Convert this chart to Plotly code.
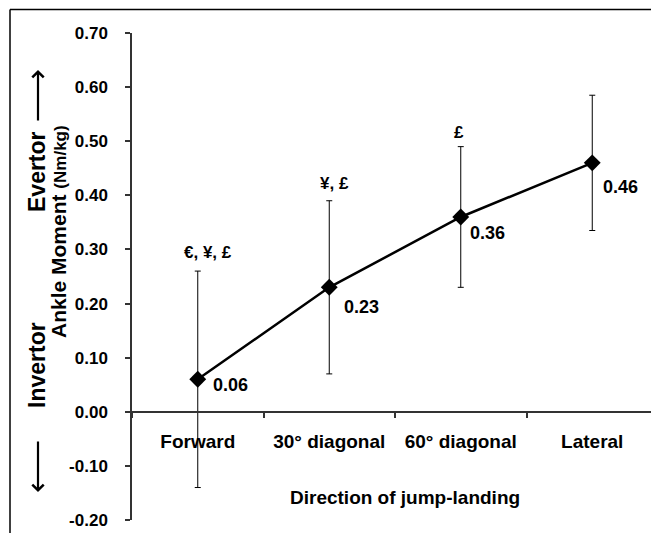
import plotly.graph_objects as go

categories = ["Forward", "30° diagonal", "60° diagonal", "Lateral"]
means = [0.06, 0.23, 0.36, 0.46]
sds = [0.20, 0.16, 0.13, 0.125]
value_labels = ["0.06", "0.23", "0.36", "0.46"]
sig_labels = ["€, ¥, £", "¥, £", "£", ""]
y_ticks = [-0.2, -0.1, 0.0, 0.1, 0.2, 0.3, 0.4, 0.5, 0.6, 0.7]
y_tick_text = ["-0.20", "-0.10", "0.00", "0.10", "0.20", "0.30", "0.40", "0.50", "0.60", "0.70"]

# page has an 8px body margin; work in page pixel coordinates
OFF = 8
W, H = 659 - OFF, 533 - OFF
PL, PT, PR, PB = 132, 33, 658, 520  # plot area in page pixels
L, T = PL - OFF, PT - OFF
R, B = W - (PR - OFF), H - (PB - OFF)
PW, PH = PR - PL, PB - PT
FONT = "Liberation Sans, Arial, sans-serif"
AX = "#333333"


def px(x):
    return (x - PL) / PW


def py(y):
    return 1 - (y - PT) / PH


fig = go.Figure()
fig.add_trace(go.Scatter(
    x=categories, y=means,
    mode="lines+markers",
    line=dict(color="black", width=2.5),
    marker=dict(symbol="diamond", size=13, color="black"),
    error_y=dict(type="data", array=sds, visible=True, color="black", thickness=1, width=3),
    showlegend=False,
))

# value labels (offsets in px)
val_off = [(13, -6), (13, -20), (7, -16), (9, -24)]
for c, m, t, (dx, dy) in zip(categories, means, value_labels, val_off):
    fig.add_annotation(x=c, y=m, text=t, showarrow=False, xanchor="left", yanchor="middle",
                       xshift=dx, yshift=dy, font=dict(family=FONT, size=18, color="black", weight="bold"))

sig_off = [(10, 19), (5, 17), (-2, 14), (0, 0)]
for c, m, s, t, (dx, dy) in zip(categories, means, sds, sig_labels, sig_off):
    if t:
        fig.add_annotation(x=c, y=m + s, text=t, showarrow=False, xanchor="center", yanchor="middle",
                           xshift=dx, yshift=dy, font=dict(family=FONT, size=17, color="black", weight="bold"))

# x-axis title
fig.add_annotation(xref="paper", yref="paper", x=px(405), y=py(497), text="Direction of jump-landing",
                   showarrow=False, xanchor="center", yanchor="middle",
                   font=dict(family=FONT, size=19, color="black", weight="bold"))

# y-axis titles
fig.add_annotation(xref="paper", yref="paper", x=px(58), y=py(232),
                   text="Ankle Moment <span style='font-size:17px'>(Nm/kg)</span>",
                   textangle=-90, showarrow=False, xanchor="center", yanchor="middle",
                   font=dict(family=FONT, size=21, color="black", weight="bold"))
fig.add_annotation(xref="paper", yref="paper", x=px(37), y=py(172), text="Evertor",
                   textangle=-90, showarrow=False, xanchor="center", yanchor="middle",
                   font=dict(family=FONT, size=23, color="black", weight="bold"))
fig.add_annotation(xref="paper", yref="paper", x=px(37), y=py(365), text="Invertor",
                   textangle=-90, showarrow=False, xanchor="center", yanchor="middle",
                   font=dict(family=FONT, size=23, color="black", weight="bold"))
# arrows
fig.add_annotation(xref="paper", yref="paper", axref="pixel", ayref="pixel",
                   x=px(38), y=py(70), ax=0, ay=52, text="", showarrow=True,
                   arrowhead=4, arrowsize=1, arrowwidth=2.2, arrowcolor="black")
fig.add_annotation(xref="paper", yref="paper", axref="pixel", ayref="pixel",
                   x=px(38), y=py(492), ax=0, ay=-52, text="", showarrow=True,
                   arrowhead=4, arrowsize=1, arrowwidth=2.2, arrowcolor="black")

# frame lines
fig.add_shape(type="line", xref="paper", yref="paper", x0=px(10), x1=px(10), y0=py(9.5), y1=py(540),
              line=dict(color="black", width=1.5))
fig.add_shape(type="line", xref="paper", yref="paper", x0=px(10), x1=px(665), y0=py(9.5), y1=py(9.5),
              line=dict(color="black", width=1.5))

fig.update_layout(
    width=W, height=H,
    margin=dict(l=L, r=R, t=T, b=B, pad=0),
    paper_bgcolor="white", plot_bgcolor="white",
    xaxis=dict(
        type="category", range=[-0.5, 3.5], tickson="boundaries",
        anchor="free", position=0.2 / 0.9,
        showline=True, linecolor=AX, linewidth=1.5,
        ticks="outside", ticklen=5, tickcolor=AX, tickwidth=1.5,
        showgrid=False, zeroline=False,
        tickfont=dict(family=FONT, size=19, color="black", weight="bold"),
        ticklabelstandoff=13,
    ),
    yaxis=dict(
        range=[-0.2, 0.7], tickvals=y_ticks, ticktext=y_tick_text,
        showline=True, linecolor=AX, linewidth=1.5,
        ticks="outside", ticklen=5, tickcolor=AX, tickwidth=1.5,
        showgrid=False, zeroline=False,
        tickfont=dict(family=FONT, size=17, color="black", weight="bold"),
        ticklabelstandoff=14,
    ),
)

fig.write_html("out.html")
